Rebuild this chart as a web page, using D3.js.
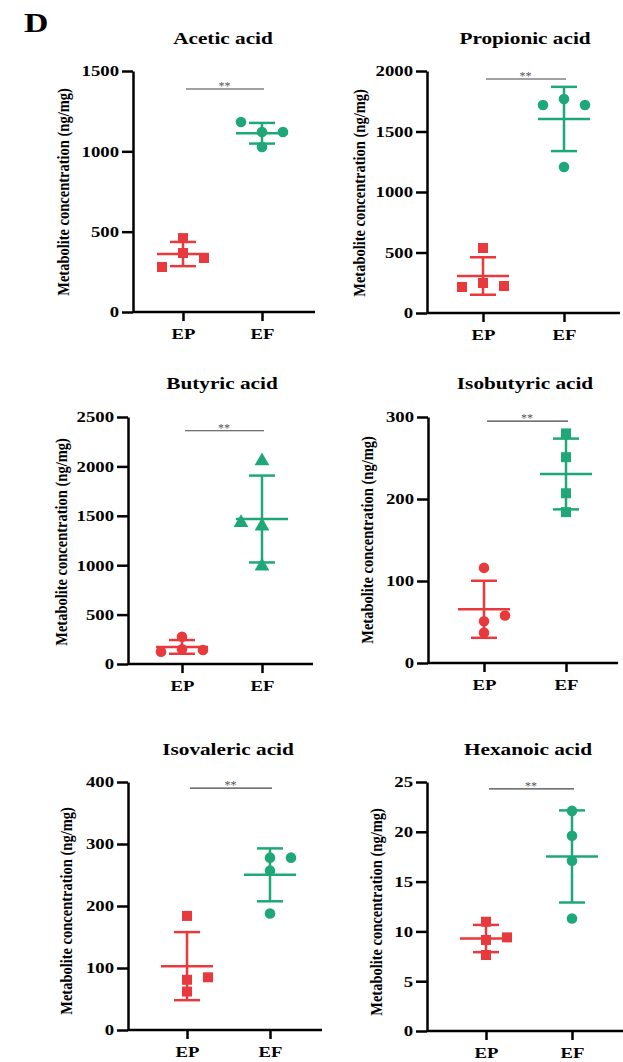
<!DOCTYPE html>
<html>
<head>
<meta charset="utf-8">
<script src="https://cdn.jsdelivr.net/npm/d3@7"></script>
<style>
  body { margin: 0; background: #fff; }
  text { font-family: "Liberation Serif", "Times New Roman", serif; font-weight: bold; }
</style>
</head>
<body>
<div id="chart"></div>
<script>
// Values (4 samples per group)
const groups = ["EP", "EF"];
const titles = ["Acetic acid", "Propionic acid", "Butyric acid", "Isobutyric acid", "Isovaleric acid", "Hexanoic acid"];
const epValues = [
    [280, 460, 367, 336],
    [215, 248, 537, 223],
    [125, 276, 149, 142],
    [116, 58, 51, 37],
    [184, 81, 85, 62],
    [10.97, 9.4, 9.14, 7.63]
];
const efValues = [
    [1183, 1120, 1120, 1027],
    [1719, 1769, 1719, 1207],
    [2055, 1430, 1395, 990],
    [280, 251, 207, 184],
    [278, 278, 257, 188],
    [22.1, 19.6, 17.1, 11.3]
];
// scatter column of each point (-1 left, 0 centre, 1 right)
const epSlots = [[-1, 0, 0, 1], [-1, 0, 0, 1], [-1, 0, 0, 1], [0, 1, 0, 0], [0, 0, 1, 0], [0, 1, 0, 0]];
const efSlots = [[-1, 0, 1, 0], [-1, 0, 1, 0], [0, -1, 0, 0], [0, 0, 0, 0], [0, 1, 0, 0], [0, 0, 0, 0]];
const epShapes = ["square", "square", "circle", "circle", "square", "square"];
const efShapes = ["circle", "circle", "triangle", "square", "circle", "circle"];
const yTicks = [
    [0, 500, 1000, 1500],
    [0, 500, 1000, 1500, 2000],
    [0, 500, 1000, 1500, 2000, 2500],
    [0, 100, 200, 300],
    [0, 100, 200, 300, 400],
    [0, 5, 10, 15, 20, 25]
];
const sigLevel = [1388, 1934, 2361, 295, 390, 24.3];
const sigLabels = ["**", "**", "**", "**", "**", "**"];
const yLabel = "Metabolite concentration (ng/mg)";

// panel placement on the page
const layout = [
    { ax: 133, top: 71, bottom: 312, right: 315, epX: 183, efX: 262, tx: 223, ty: 44, lx: 64, ly: 192 },
    { ax: 427, top: 71, bottom: 313, right: 620, epX: 483, efX: 564, tx: 525, ty: 44, lx: 360, ly: 193 },
    { ax: 128, top: 417, bottom: 664, right: 313, epX: 182, efX: 262, tx: 222, ty: 389, lx: 62, ly: 542 },
    { ax: 428, top: 417, bottom: 663, right: 618, epX: 484, efX: 566, tx: 525, ty: 389, lx: 368, ly: 540 },
    { ax: 128, top: 782, bottom: 1030, right: 322, epX: 187, efX: 270, tx: 228, ty: 755, lx: 67, ly: 911 },
    { ax: 427, top: 782, bottom: 1031, right: 623, epX: 486, efX: 572, tx: 528, ty: 755, lx: 377, ly: 912 }
];

const colors = { EP: "#e8393c", EF: "#1ea878" };
const shapes = { square: d3.symbolSquare, circle: d3.symbolCircle, triangle: d3.symbolTriangle };
const shapeSize = { square: 100, circle: 88, triangle: 95 };
const stretch = 1.25;

const width = 623, height = 1062;
const svg = d3.select("#chart").append("svg")
    .attr("width", width)
    .attr("height", height);

svg.append("text")
    .attr("transform", `translate(24,32) scale(${stretch},1)`)
    .attr("font-size", 27)
    .text("D");

titles.forEach((title, i) => {
    const L = layout[i];
    const g = svg.append("g");

    const y = d3.scaleLinear().domain([0, d3.max(yTicks[i])]).range([L.bottom, L.top]);
    const x = d3.scalePoint().domain(groups).range([L.epX, L.efX]);
    const slot = d3.scaleLinear().domain([-1, 1]).range([-21, 21]);

    // title
    g.append("text")
        .attr("transform", `translate(${L.tx},${L.ty}) scale(${stretch},1)`)
        .attr("text-anchor", "middle")
        .attr("font-size", 17)
        .text(title);

    // y label
    g.append("text")
        .attr("transform", `translate(${L.lx + 5},${L.ly}) rotate(-90) scale(1,1.2)`)
        .attr("text-anchor", "middle")
        .attr("font-size", 14.5)
        .text(yLabel);

    // y axis
    const yAxis = g.append("g")
        .attr("transform", `translate(${L.ax},0)`)
        .call(d3.axisLeft(y).tickValues(yTicks[i]).tickFormat(d3.format("d"))
            .tickSize(11).tickSizeOuter(0).tickPadding(3));
    yAxis.select(".domain").attr("stroke-width", 2.5);
    yAxis.selectAll(".tick line").attr("stroke-width", 2.5);
    yAxis.selectAll(".tick text")
        .attr("font-size", 15)
        .attr("fill", "#000")
        .attr("font-family", "Liberation Serif, serif")
        .style("font-weight", "bold")
        .each(function () {
            const t = d3.select(this);
            const xx = +t.attr("x");
            t.attr("x", null).attr("transform", `translate(${xx},0) scale(${stretch},1)`);
        });

    // x axis
    const xAxis = g.append("g")
        .attr("transform", `translate(0,${L.bottom})`)
        .call(d3.axisBottom(x).tickSize(9).tickSizeOuter(0).tickPadding(6));
    xAxis.select(".domain").attr("d", `M${L.ax},0H${L.right}`).attr("stroke-width", 2.5);
    xAxis.selectAll(".tick line").attr("stroke-width", 2.5);
    xAxis.selectAll(".tick text")
        .attr("font-size", 15)
        .attr("fill", "#000")
        .attr("dy", null)
        .attr("y", null)
        .attr("transform", `translate(0,27) scale(${stretch},1)`);

    // significance bar
    g.append("line")
        .attr("x1", x("EP") + 3).attr("x2", x("EF") + 2)
        .attr("y1", y(sigLevel[i])).attr("y2", y(sigLevel[i]))
        .attr("stroke", "#444").attr("stroke-width", 1.2);
    g.append("text")
        .attr("x", (x("EP") + x("EF")) / 2 + 2)
        .attr("y", y(sigLevel[i]) + 1)
        .attr("text-anchor", "middle")
        .attr("font-size", 12)
        .attr("fill", "#555")
        .style("font-weight", "normal")
        .text(sigLabels[i]);

    const sets = [
        { key: "EP", vals: epValues[i], slots: epSlots[i], shape: epShapes[i] },
        { key: "EF", vals: efValues[i], slots: efSlots[i], shape: efShapes[i] }
    ];

    sets.forEach(s => {
        const cx = x(s.key);
        const m = d3.mean(s.vals);
        const sd = d3.deviation(s.vals);
        const col = colors[s.key];
        const eb = g.append("g").attr("stroke", col).attr("stroke-width", 2.5);
        eb.append("line").attr("x1", cx).attr("x2", cx).attr("y1", y(m - sd)).attr("y2", y(m + sd));
        eb.append("line").attr("x1", cx - 26).attr("x2", cx + 26).attr("y1", y(m)).attr("y2", y(m));
        [m - sd, m + sd].forEach(v => {
            eb.append("line").attr("x1", cx - 13).attr("x2", cx + 13).attr("y1", y(v)).attr("y2", y(v));
        });

        g.selectAll(null)
            .data(s.vals.map((v, j) => ({ v, slot: s.slots[j] })))
            .enter()
            .append("path")
            .attr("d", d3.symbol().type(shapes[s.shape]).size(shapeSize[s.shape]))
            .attr("transform", d => `translate(${cx + slot(d.slot)},${y(d.v)})`)
            .attr("fill", col);
    });
});
</script>
</body>
</html>
